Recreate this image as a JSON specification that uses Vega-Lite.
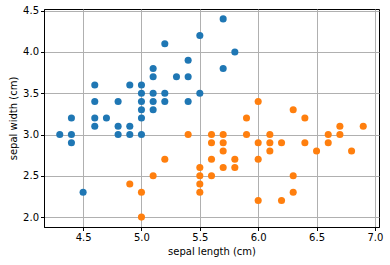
{
  "$schema": "https://vega.github.io/schema/vega-lite/v6.json",
  "width": 335,
  "height": 218,
  "autosize": "none",
  "padding": {"left": 44, "top": 9, "right": 11, "bottom": 38},
  "background": "white",
  "data": {"values": [
    {"species": "setosa", "sl": 4.3, "sw": 3.0},
    {"species": "setosa", "sl": 4.4, "sw": 3.2},
    {"species": "setosa", "sl": 4.4, "sw": 3.0},
    {"species": "setosa", "sl": 4.4, "sw": 2.9},
    {"species": "setosa", "sl": 4.5, "sw": 2.3},
    {"species": "setosa", "sl": 4.6, "sw": 3.6},
    {"species": "setosa", "sl": 4.6, "sw": 3.4},
    {"species": "setosa", "sl": 4.6, "sw": 3.2},
    {"species": "setosa", "sl": 4.6, "sw": 3.1},
    {"species": "setosa", "sl": 4.7, "sw": 3.2},
    {"species": "setosa", "sl": 4.8, "sw": 3.4},
    {"species": "setosa", "sl": 4.8, "sw": 3.1},
    {"species": "setosa", "sl": 4.8, "sw": 3.0},
    {"species": "setosa", "sl": 4.9, "sw": 3.6},
    {"species": "setosa", "sl": 4.9, "sw": 3.1},
    {"species": "setosa", "sl": 4.9, "sw": 3.0},
    {"species": "setosa", "sl": 5.0, "sw": 3.6},
    {"species": "setosa", "sl": 5.0, "sw": 3.5},
    {"species": "setosa", "sl": 5.0, "sw": 3.4},
    {"species": "setosa", "sl": 5.0, "sw": 3.3},
    {"species": "setosa", "sl": 5.0, "sw": 3.2},
    {"species": "setosa", "sl": 5.0, "sw": 3.0},
    {"species": "setosa", "sl": 5.1, "sw": 3.8},
    {"species": "setosa", "sl": 5.1, "sw": 3.7},
    {"species": "setosa", "sl": 5.1, "sw": 3.5},
    {"species": "setosa", "sl": 5.1, "sw": 3.4},
    {"species": "setosa", "sl": 5.1, "sw": 3.3},
    {"species": "setosa", "sl": 5.2, "sw": 4.1},
    {"species": "setosa", "sl": 5.2, "sw": 3.5},
    {"species": "setosa", "sl": 5.2, "sw": 3.4},
    {"species": "setosa", "sl": 5.3, "sw": 3.7},
    {"species": "setosa", "sl": 5.4, "sw": 3.9},
    {"species": "setosa", "sl": 5.4, "sw": 3.7},
    {"species": "setosa", "sl": 5.4, "sw": 3.4},
    {"species": "setosa", "sl": 5.5, "sw": 4.2},
    {"species": "setosa", "sl": 5.5, "sw": 3.5},
    {"species": "setosa", "sl": 5.7, "sw": 4.4},
    {"species": "setosa", "sl": 5.7, "sw": 3.8},
    {"species": "setosa", "sl": 5.8, "sw": 4.0},
    {"species": "versicolor", "sl": 4.9, "sw": 2.4},
    {"species": "versicolor", "sl": 5.0, "sw": 2.3},
    {"species": "versicolor", "sl": 5.0, "sw": 2.0},
    {"species": "versicolor", "sl": 5.1, "sw": 2.5},
    {"species": "versicolor", "sl": 5.2, "sw": 2.7},
    {"species": "versicolor", "sl": 5.4, "sw": 3.0},
    {"species": "versicolor", "sl": 5.5, "sw": 2.6},
    {"species": "versicolor", "sl": 5.5, "sw": 2.5},
    {"species": "versicolor", "sl": 5.5, "sw": 2.4},
    {"species": "versicolor", "sl": 5.5, "sw": 2.3},
    {"species": "versicolor", "sl": 5.6, "sw": 3.0},
    {"species": "versicolor", "sl": 5.6, "sw": 2.9},
    {"species": "versicolor", "sl": 5.6, "sw": 2.7},
    {"species": "versicolor", "sl": 5.6, "sw": 2.5},
    {"species": "versicolor", "sl": 5.7, "sw": 3.0},
    {"species": "versicolor", "sl": 5.7, "sw": 2.9},
    {"species": "versicolor", "sl": 5.7, "sw": 2.8},
    {"species": "versicolor", "sl": 5.7, "sw": 2.6},
    {"species": "versicolor", "sl": 5.8, "sw": 2.7},
    {"species": "versicolor", "sl": 5.8, "sw": 2.6},
    {"species": "versicolor", "sl": 5.9, "sw": 3.2},
    {"species": "versicolor", "sl": 5.9, "sw": 3.0},
    {"species": "versicolor", "sl": 6.0, "sw": 3.4},
    {"species": "versicolor", "sl": 6.0, "sw": 2.9},
    {"species": "versicolor", "sl": 6.0, "sw": 2.7},
    {"species": "versicolor", "sl": 6.0, "sw": 2.2},
    {"species": "versicolor", "sl": 6.1, "sw": 3.0},
    {"species": "versicolor", "sl": 6.1, "sw": 2.9},
    {"species": "versicolor", "sl": 6.1, "sw": 2.8},
    {"species": "versicolor", "sl": 6.2, "sw": 2.9},
    {"species": "versicolor", "sl": 6.2, "sw": 2.2},
    {"species": "versicolor", "sl": 6.3, "sw": 3.3},
    {"species": "versicolor", "sl": 6.3, "sw": 2.5},
    {"species": "versicolor", "sl": 6.3, "sw": 2.3},
    {"species": "versicolor", "sl": 6.4, "sw": 3.2},
    {"species": "versicolor", "sl": 6.4, "sw": 2.9},
    {"species": "versicolor", "sl": 6.5, "sw": 2.8},
    {"species": "versicolor", "sl": 6.6, "sw": 3.0},
    {"species": "versicolor", "sl": 6.6, "sw": 2.9},
    {"species": "versicolor", "sl": 6.7, "sw": 3.1},
    {"species": "versicolor", "sl": 6.7, "sw": 3.0},
    {"species": "versicolor", "sl": 6.8, "sw": 2.8},
    {"species": "versicolor", "sl": 6.9, "sw": 3.1}
  ]},
  "mark": {"type": "circle", "size": 50, "opacity": 1},
  "encoding": {
    "x": {
      "field": "sl", "type": "quantitative",
      "scale": {"domain": [4.165, 7.035], "nice": false, "zero": false},
      "axis": {"title": "sepal length (cm)", "values": [4.5, 5.0, 5.5, 6.0, 6.5, 7.0], "format": ".1f"}
    },
    "y": {
      "field": "sw", "type": "quantitative",
      "scale": {"domain": [1.88, 4.52], "nice": false, "zero": false},
      "axis": {"title": "sepal width (cm)", "values": [2.0, 2.5, 3.0, 3.5, 4.0, 4.5], "format": ".1f"}
    },
    "color": {
      "field": "species", "type": "nominal",
      "scale": {"domain": ["setosa", "versicolor"], "range": ["#1f77b4", "#ff7f0e"]},
      "legend": null
    }
  },
  "config": {
    "font": "DejaVu Sans",
    "view": {"stroke": "#000000", "strokeWidth": 1},
    "axis": {
      "zindex": 1,
      "domainColor": "#000000",
      "domainWidth": 1,
      "tickColor": "#000000",
      "tickSize": 3.5,
      "tickWidth": 1,
      "grid": true,
      "gridColor": "#b0b0b0",
      "gridWidth": 1,
      "labelFont": "DejaVu Sans",
      "labelFontSize": 10,
      "labelColor": "#000000",
      "labelPadding": 2,
      "titleFont": "DejaVu Sans",
      "titleFontSize": 10,
      "titleFontWeight": "normal",
      "titleColor": "#000000",
      "titlePadding": 4
    }
  }
}
